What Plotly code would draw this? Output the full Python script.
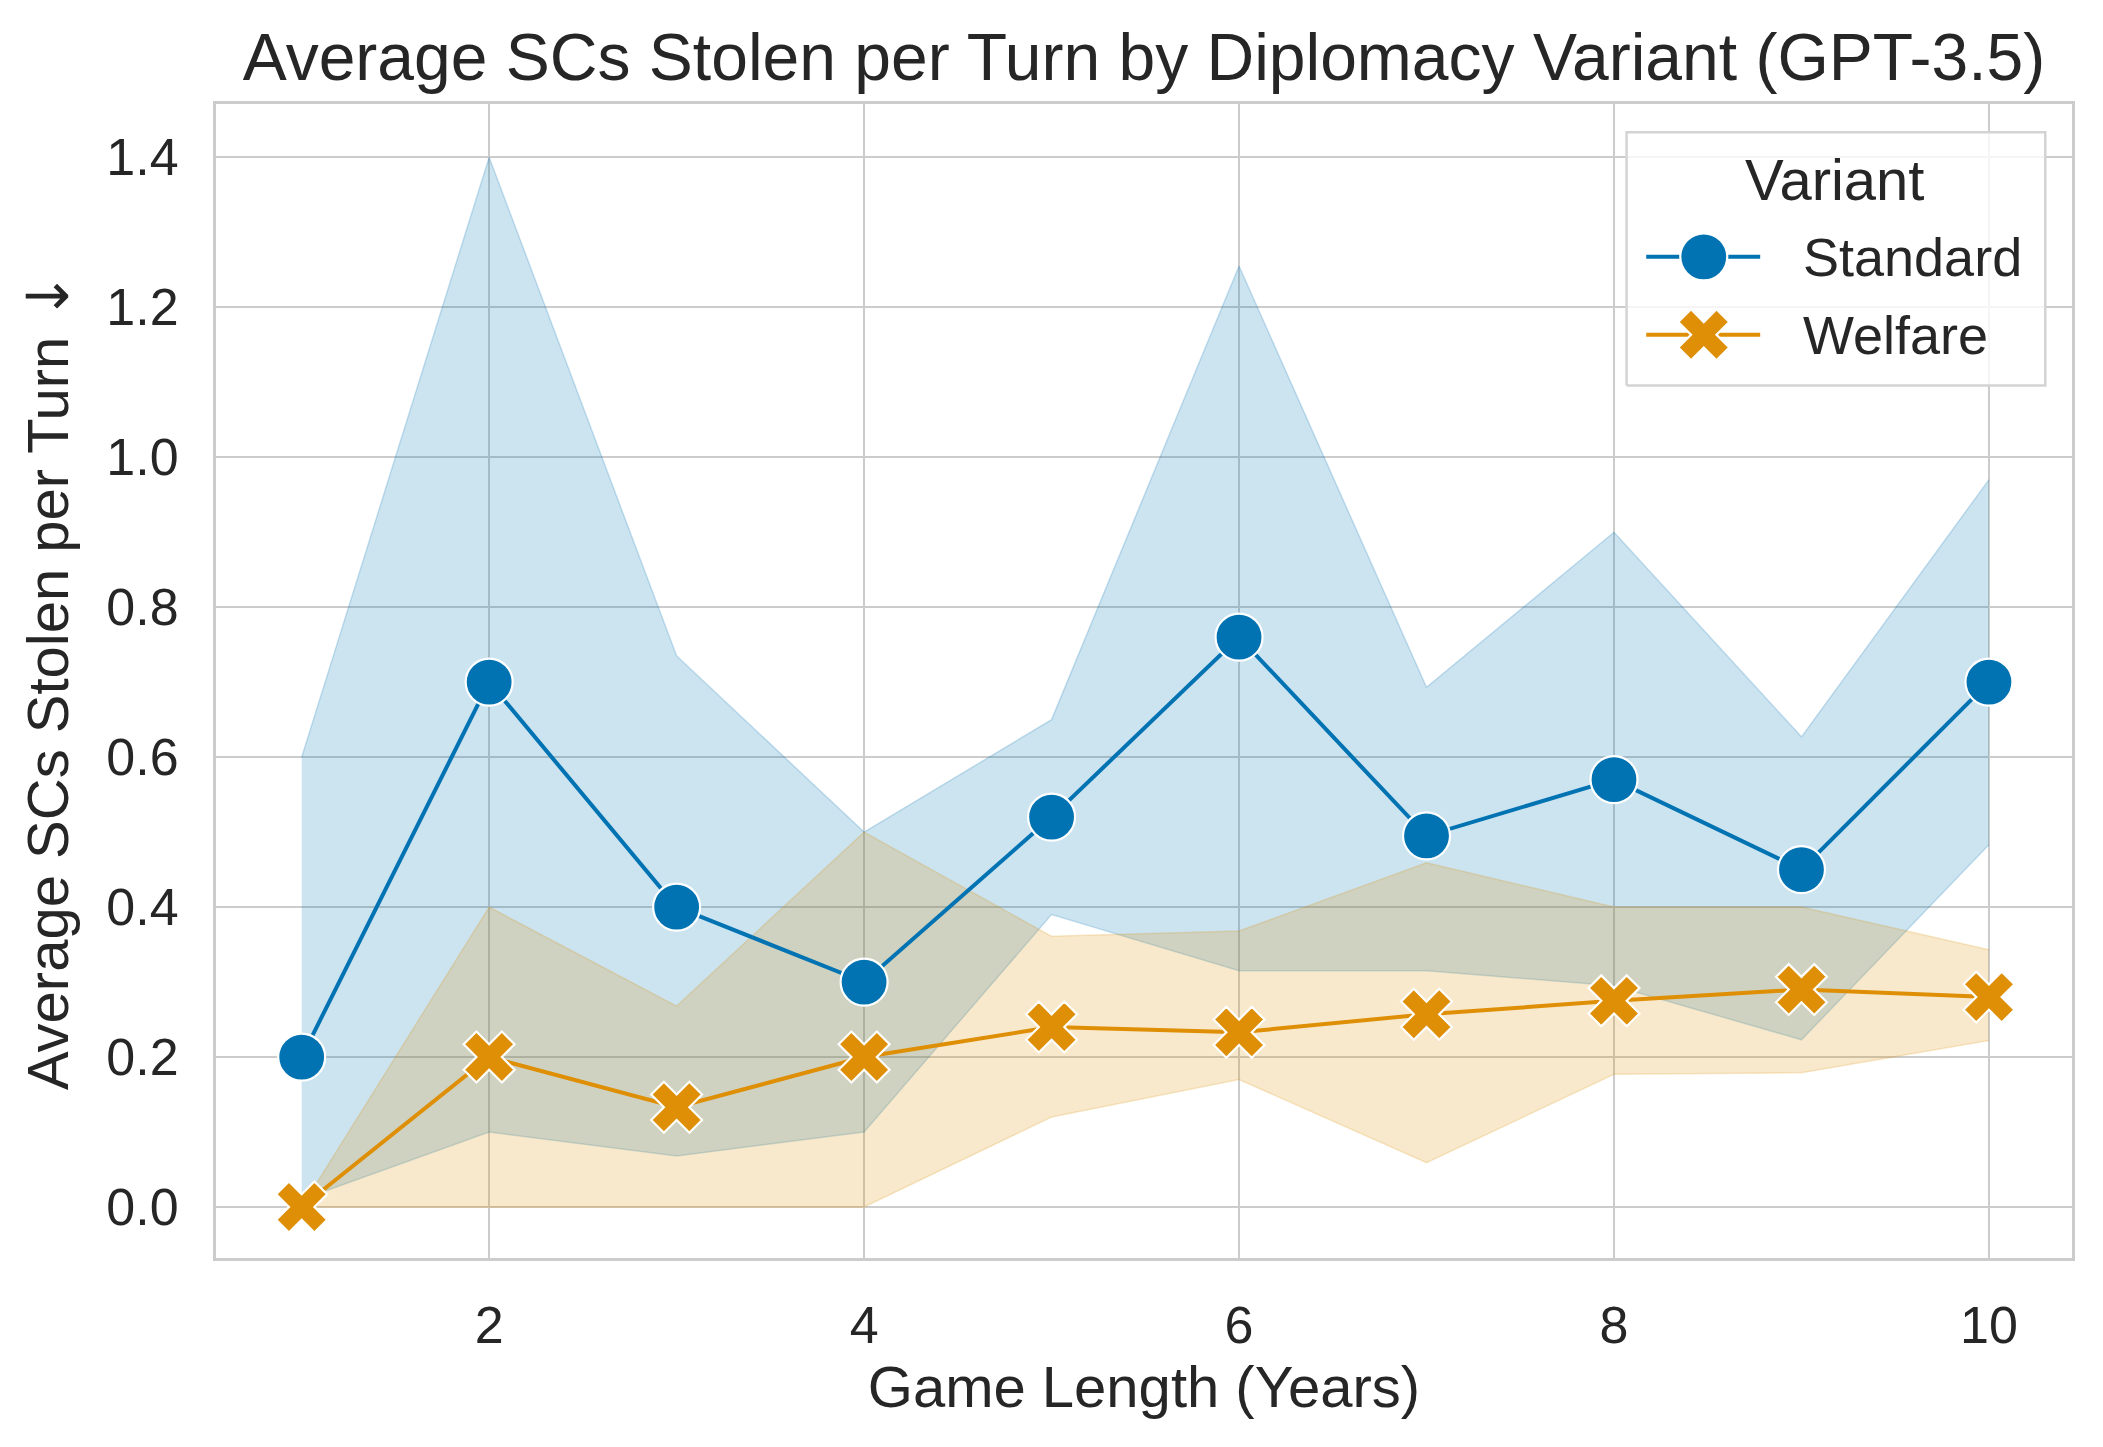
import plotly.graph_objects as go

# Game length in years
years = [1, 2, 3, 4, 5, 6, 7, 8, 9, 10]

# Standard variant: mean and 95% CI bounds
standard_mean = [0.20, 0.70, 0.40, 0.30, 0.52, 0.76, 0.495, 0.57, 0.45, 0.70]
standard_upper = [0.60, 1.40, 0.735, 0.50, 0.65, 1.255, 0.693, 0.90, 0.627, 0.97]
standard_lower = [0.01, 0.10, 0.068, 0.10, 0.39, 0.315, 0.315, 0.295, 0.223, 0.483]

# Welfare variant: mean and 95% CI bounds
welfare_mean = [0.0, 0.20, 0.133, 0.20, 0.24, 0.233, 0.257, 0.275, 0.29, 0.28]
welfare_upper = [0.0, 0.40, 0.268, 0.50, 0.361, 0.368, 0.459, 0.40, 0.40, 0.343]
welfare_lower = [0.0, 0.0, 0.0, 0.0, 0.12, 0.17, 0.059, 0.177, 0.179, 0.222]

variants = ["Standard", "Welfare"]

BLUE = "#0173B2"
ORANGE = "#DE8F05"
FONT = "Liberation Sans, Arial, sans-serif"
TEXT = "#262626"
GRID = "#cccccc"

LINE_W = 4.0
MARKERS = {
    "Standard": dict(symbol="circle", size=47, color=BLUE),
    "Welfare": dict(symbol="x", size=45, color=ORANGE),
}


def band(x, lower, upper, rgba):
    # lower edge, then upper edge filled down to it
    return [
        go.Scatter(
            x=x, y=lower, mode="lines", line=dict(color=rgba, width=1.5),
            showlegend=False, hoverinfo="skip",
        ),
        go.Scatter(
            x=x, y=upper, mode="lines", line=dict(color=rgba, width=1.5),
            fill="tonexty", fillcolor=rgba,
            showlegend=False, hoverinfo="skip",
        ),
    ]


fig = go.Figure()

for trace in band(years, standard_lower, standard_upper, "rgba(1,115,178,0.2)"):
    fig.add_trace(trace)
for trace in band(years, welfare_lower, welfare_upper, "rgba(222,143,5,0.2)"):
    fig.add_trace(trace)

for name, ys in zip(variants, [standard_mean, welfare_mean]):
    m = MARKERS[name]
    fig.add_trace(go.Scatter(
        x=years, y=ys, mode="lines+markers", name=name, showlegend=False,
        line=dict(color=m["color"], width=LINE_W),
        marker=dict(symbol=m["symbol"], size=m["size"], color=m["color"],
                    line=dict(color="white", width=2.2)),
    ))

# Hand-built legend on an overlay axis spanning the plot area (0..1 each way)
box_x = [0.760, 0.9856, 0.9856, 0.760, 0.760]
box_y = [0.756, 0.756, 0.9756, 0.9756, 0.756]
fig.add_trace(go.Scatter(
    x=box_x, y=box_y, xaxis="x2", yaxis="y2", mode="lines",
    line=dict(color="#d4d4d4", width=2.5),
    fill="toself", fillcolor="rgba(255,255,255,0.8)",
    showlegend=False, hoverinfo="skip",
))
row_y = [0.8676, 0.800]
for name, ry in zip(variants, row_y):
    m = MARKERS[name]
    fig.add_trace(go.Scatter(
        x=[0.7706, 0.832], y=[ry, ry], xaxis="x2", yaxis="y2", mode="lines",
        line=dict(color=m["color"], width=LINE_W),
        showlegend=False, hoverinfo="skip",
    ))
    fig.add_trace(go.Scatter(
        x=[0.8016], y=[ry], xaxis="x2", yaxis="y2", mode="markers",
        marker=dict(symbol=m["symbol"], size=m["size"], color=m["color"],
                    line=dict(color="white", width=2.2)),
        showlegend=False, hoverinfo="skip",
    ))
    fig.add_annotation(
        x=0.854, y=ry, xref="paper", yref="paper", text=name,
        showarrow=False, xanchor="left", yanchor="middle",
        font=dict(size=54, color=TEXT, family=FONT),
    )
fig.add_annotation(
    x=0.872, y=0.935, xref="paper", yref="paper", text="Variant",
    showarrow=False, xanchor="center", yanchor="middle",
    font=dict(size=58, color=TEXT, family=FONT),
)

axis_common = dict(
    showgrid=True, gridcolor=GRID, gridwidth=2.2,
    showline=True, linecolor=GRID, linewidth=3, mirror=True,
    zeroline=False,
    ticks="outside", tickcolor="rgba(0,0,0,0)",
    tickfont=dict(size=52, color=TEXT, family=FONT),
)

fig.update_layout(
    width=2103,
    height=1447,
    paper_bgcolor="white",
    plot_bgcolor="white",
    font=dict(family=FONT, color=TEXT),
    margin=dict(l=208, r=39, t=96, b=197),
    showlegend=False,
    title=dict(
        text="Average SCs Stolen per Turn by Diplomacy Variant (GPT-3.5)",
        x=0.5, xref="paper", xanchor="center",
        y=0.966, yref="container", yanchor="middle",
        font=dict(size=66, color=TEXT, family=FONT),
    ),
    xaxis=dict(
        **axis_common,
        ticklen=20,
        range=[0.543, 10.443],
        tickmode="linear", tick0=2, dtick=2,
        title=dict(text="Game Length (Years)", standoff=6,
                   font=dict(size=58, color=TEXT, family=FONT)),
    ),
    yaxis=dict(
        **axis_common,
        ticklen=24,
        range=[-0.068, 1.471],
        tickmode="linear", tick0=0, dtick=0.2, tickformat=".1f",
        title=dict(
            text="Average SCs Stolen per Turn "
                 "<span style='font-family:DejaVu Sans'>↓</span>",
            standoff=20,
            font=dict(size=58, color=TEXT, family=FONT),
        ),
    ),
    xaxis2=dict(overlaying="x", range=[0, 1], visible=False, fixedrange=True),
    yaxis2=dict(overlaying="y", range=[0, 1], visible=False, fixedrange=True),
)

fig.write_html("out.html")
